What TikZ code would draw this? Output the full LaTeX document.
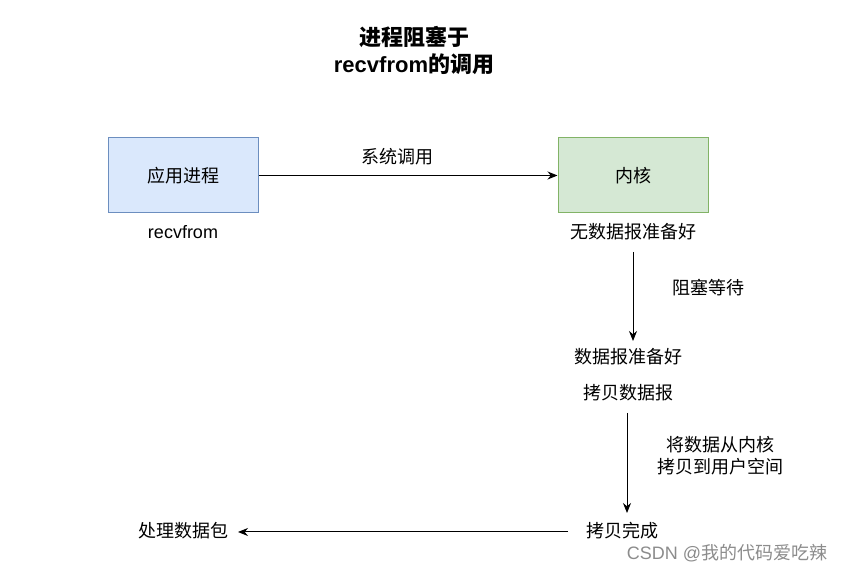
\documentclass[tikz,border=0pt]{standalone}
\usepackage{fontspec}
\setmainfont{Liberation Sans}
\newfontfamily\cjk{Noto Sans CJK SC}
\usetikzlibrary{arrows.meta}
\definecolor{bluefill}{HTML}{DAE8FC}
\definecolor{blueline}{HTML}{6C8EBF}
\definecolor{greenfill}{HTML}{D5E8D4}
\definecolor{greenline}{HTML}{82B366}
\begin{document}
\begin{tikzpicture}[x=0.75pt,y=-0.75pt,
  box/.style={draw, line width=0.75pt, minimum width=112.5pt, minimum height=56.25pt, inner sep=0pt, font=\cjk\fontsize{13.5}{16}\selectfont},
  lbl/.style={inner sep=1pt, font=\cjk\fontsize{13.5}{16.5}\selectfont, align=center},
  conn/.style={line width=0.75pt, -{Stealth[length=7.5pt,width=6pt]}},
  ttl/.style={font=\cjk\bfseries\fontsize{16.5}{19}\selectfont, align=center}]
\useasboundingbox[fill=white] (0,0) rectangle (847,573);
% title
\node[ttl] (t1) at (414,37) {进程阻塞于};
\node[ttl] (t2) at (414,64) {{\fontspec{Liberation Sans}\bfseries recvfrom}的调用};
% boxes
\node[box, fill=bluefill, draw=blueline] (app) at (183,175.5) {应用进程};
\node[box, fill=greenfill, draw=greenline] (kern) at (633,175.5) {内核};
% labels
\node[lbl, font=\fontsize{13.5}{16}\selectfont] (recv) at (183,232) {recvfrom};
\node[lbl] (nodata) at (633,232) {无数据报准备好};
\node[lbl] (ready) at (628,357) {数据报准备好};
\node[lbl] (copy) at (628,393) {拷贝数据报};
\node[lbl] (done) at (622,531) {拷贝完成};
\node[lbl] (proc) at (183,531) {处理数据包};
% edge labels
\node[lbl] (sys) at (397,157) {系统调用};
\node[lbl] (block) at (708,288) {阻塞等待};
\node[lbl] (cp) at (720,456) {将数据从内核\\拷贝到用户空间};
% connectors
\draw[conn] (app.east) -- (kern.west);
\coordinate (a1) at (633,252);
\coordinate (a2) at (633,341);
\draw[conn] (a1) -- (a2);
\coordinate (b1) at (627,413);
\coordinate (b2) at (627,513);
\draw[conn] (b1) -- (b2);
\coordinate (c1) at (568,532);
\coordinate (c2) at (238,532);
\draw[conn] (c1) -- (c2);
% watermark
\node[inner sep=0pt, text=black!45, font=\cjk\fontsize{13.5}{15}\selectfont] (wm) at (727,553) {{\fontspec{Liberation Sans}CSDN @}我的代码爱吃辣};
\end{tikzpicture}
\end{document}
